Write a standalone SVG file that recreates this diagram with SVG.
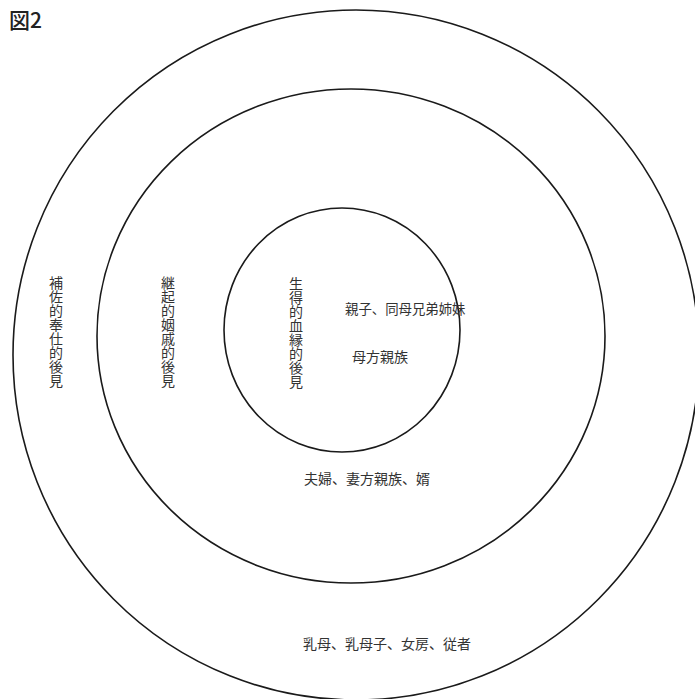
<svg xmlns="http://www.w3.org/2000/svg" width="695" height="699" viewBox="0 0 695 699">
<style>
.ring{fill:none;stroke:#1a1a1a;stroke-width:1.6}
.t{font-family:"Noto Sans CJK JP","Noto Sans CJK SC",sans-serif;font-size:14px;fill:#333}
.v{writing-mode:vertical-rl}
.title{font-family:"Noto Sans CJK JP",sans-serif;font-size:21px;font-weight:500;fill:#222}
</style>
<rect width="695" height="699" fill="#fff"/>
<text class="title" x="9" y="28">図2</text>
<g id="outer">
<ellipse class="ring" cx="356" cy="355" rx="343" ry="345"/>
<text class="t v" x="56" y="276">補佐的奉仕的後見</text>
<text class="t" x="303" y="649">乳母、乳母子、女房、従者</text>
</g>
<g id="middle">
<ellipse class="ring" cx="351" cy="336" rx="254" ry="247"/>
<text class="t v" x="168" y="276">継起的姻戚的後見</text>
<text class="t" x="304" y="484">夫婦、妻方親族、婿</text>
</g>
<g id="inner">
<ellipse class="ring" cx="342" cy="330" rx="118" ry="122"/>
<text class="t v" x="296" y="277">生得的血縁的後見</text>
<text class="t" x="345" y="314" style="font-size:13.4px">親子、同母兄弟姉妹</text>
<text class="t" x="352" y="362">母方親族</text>
</g>
<g id="connectors"></g>
</svg>
